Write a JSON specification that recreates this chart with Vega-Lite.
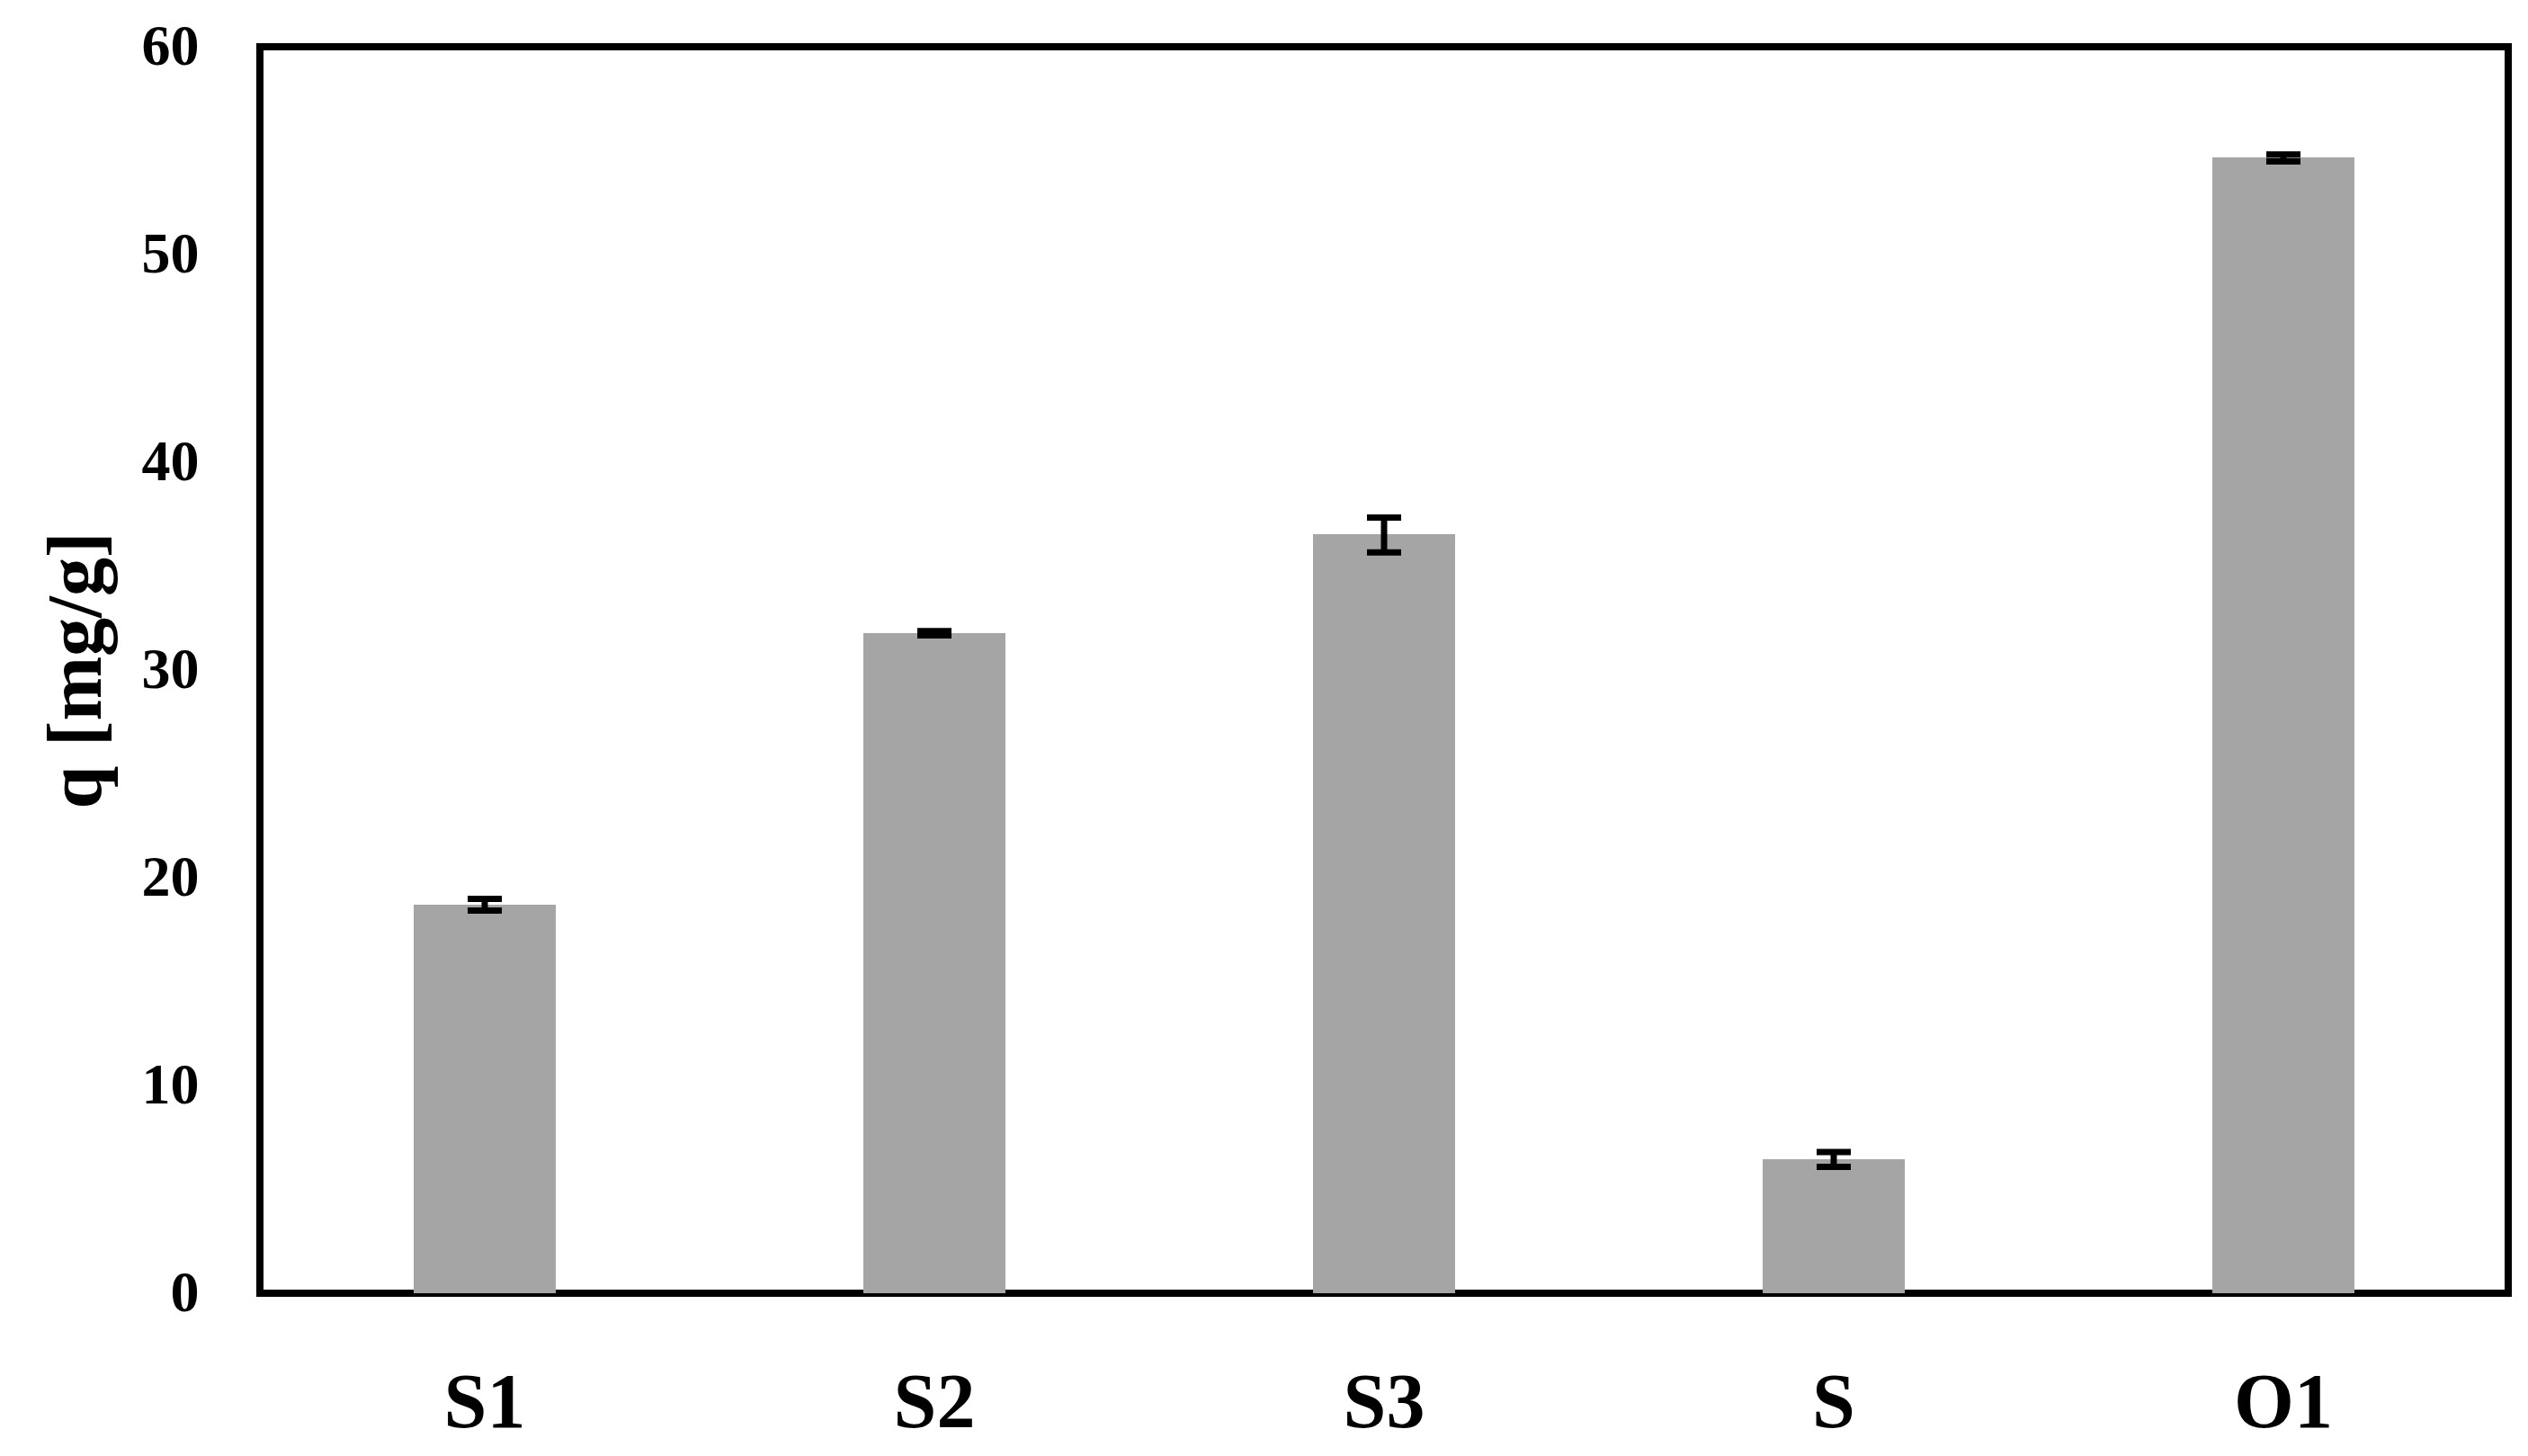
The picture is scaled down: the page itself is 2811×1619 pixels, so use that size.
{
  "$schema": "https://vega.github.io/schema/vega-lite/v6.json",
  "autosize": {"type": "none"},
  "width": 2500,
  "height": 1386,
  "padding": {"left": 289, "top": 52, "right": 22, "bottom": 181},
  "background": "white",
  "config": {
    "font": "Liberation Serif",
    "view": {"stroke": "black", "strokeWidth": 8, "strokeJoin": "miter"},
    "axis": {"domain": false, "ticks": false, "grid": false, "labelColor": "black", "titleColor": "black", "labelFontWeight": "bold", "titleFontWeight": "bold"}
  },
  "data": {
    "values": [
      {"sample": "S1", "q": 18.70, "lo": 18.42, "hi": 18.98},
      {"sample": "S2", "q": 31.77, "lo": 31.67, "hi": 31.87},
      {"sample": "S3", "q": 36.54, "lo": 35.66, "hi": 37.34},
      {"sample": "S", "q": 6.45, "lo": 6.08, "hi": 6.80},
      {"sample": "O1", "q": 54.68, "lo": 54.48, "hi": 54.82}
    ]
  },
  "encoding": {
    "x": {
      "field": "sample", "type": "nominal", "sort": null,
      "scale": {"paddingInner": 0.684, "paddingOuter": 0.342},
      "axis": {"title": null, "labelAngle": 0, "labelFontSize": 86, "labelPadding": 80}
    }
  },
  "layer": [
    {
      "mark": {"type": "bar", "color": "#a5a5a5"},
      "encoding": {
        "y": {
          "field": "q", "type": "quantitative",
          "scale": {"domain": [0, 60], "nice": false},
          "axis": {"title": "q [mg/g]", "values": [0, 10, 20, 30, 40, 50, 60], "labelFontSize": 64, "labelPadding": 68, "titleFontSize": 86, "titlePadding": 28}
        }
      }
    },
    {
      "mark": {"type": "rule", "color": "black", "strokeWidth": 7},
      "encoding": {
        "y": {"field": "lo", "type": "quantitative"},
        "y2": {"field": "hi"}
      }
    },
    {
      "mark": {"type": "tick", "color": "black", "size": 38, "thickness": 7, "orient": "horizontal", "opacity": 1},
      "encoding": {"y": {"field": "lo", "type": "quantitative"}}
    },
    {
      "mark": {"type": "tick", "color": "black", "size": 38, "thickness": 7, "orient": "horizontal", "opacity": 1},
      "encoding": {"y": {"field": "hi", "type": "quantitative"}}
    }
  ]
}
